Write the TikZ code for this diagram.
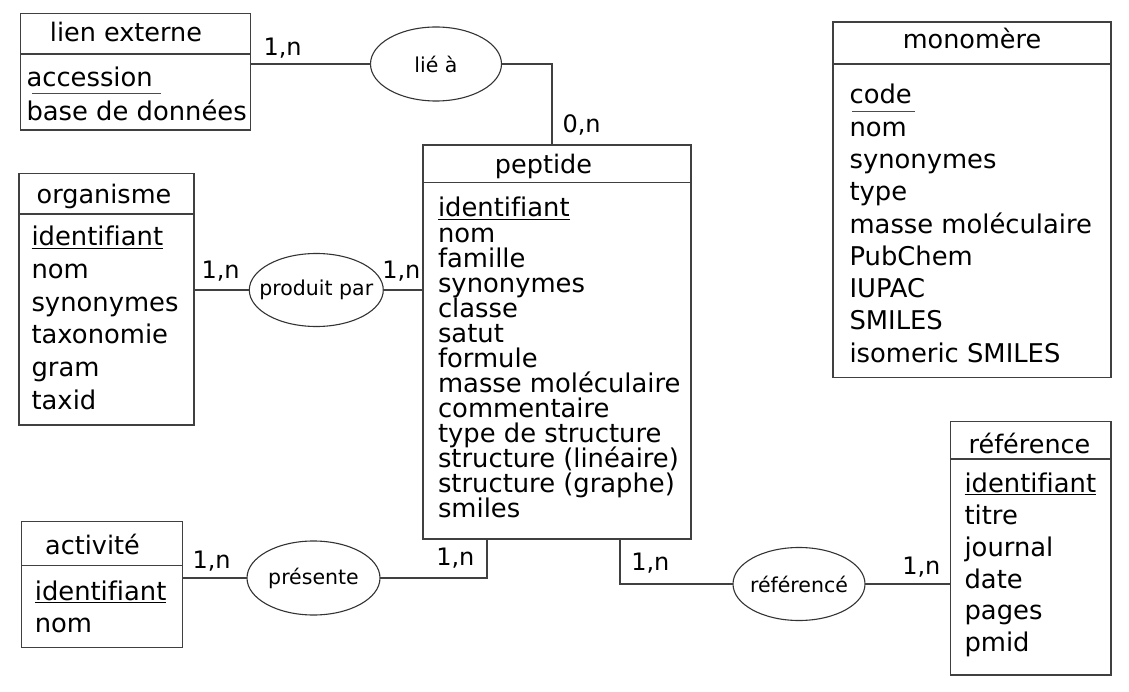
\documentclass[tikz,border=0pt]{standalone}
\usepackage{fontspec}
\setmainfont{DejaVu Sans}[Ligatures=NoCommon]
\usetikzlibrary{shapes.geometric}

\begin{document}
\begin{tikzpicture}[x=1pt, y=-1pt, line width=1.1pt,
	entite/.style={draw=black!75, rectangle, anchor=north west, inner sep=0pt, outer sep=0pt},
	separe/.style={draw=black!75},
	titre/.style={anchor=base, inner sep=0pt, font=\fontsize{25.5}{30}\selectfont},
	attr/.style={anchor=base west, inner sep=0pt, font=\fontsize{25.8}{30}\selectfont},
	assoc/.style={draw=black!80, ellipse, inner sep=0pt, outer sep=0pt},
	assoctexte/.style={inner sep=0pt, font=\fontsize{20.5}{24}\selectfont},
	card/.style={anchor=base west, inner sep=0pt, font=\fontsize{24}{28}\selectfont},
	liaison/.style={draw=black!75},
	souligne/.style={draw=black!70, line width=1pt}]
	\useasboundingbox (0,0) rectangle (1129,692);
	% Entites
	\node[entite, minimum width=230pt, minimum height=116.5pt] (lien) at (20.5,13.5) {};
	\node[entite, minimum width=175pt, minimum height=251.5pt] (org) at (19,173.5) {};
	\node[entite, minimum width=268pt, minimum height=394pt] (pep) at (423,145) {};
	\node[entite, minimum width=161pt, minimum height=126pt] (act) at (21.5,521.5) {};
	\node[entite, minimum width=160.5pt, minimum height=253.5pt] (ref) at (950.5,421.5) {};
	\node[entite, minimum width=278pt, minimum height=355.7pt] (mono) at (833,22) {};
	% Separations sous les titres
	\draw[separe] (lien.west |- 0,54) -- (lien.east |- 0,54);
	\draw[separe] (org.west |- 0,214) -- (org.east |- 0,214);
	\draw[separe] (pep.west |- 0,182.5) -- (pep.east |- 0,182.5);
	\draw[separe] (act.west |- 0,565.7) -- (act.east |- 0,565.7);
	\draw[separe] (ref.west |- 0,459) -- (ref.east |- 0,459);
	\draw[separe] (mono.west |- 0,64) -- (mono.east |- 0,64);
	% Titres
	\node[titre] (lien-titre) at (126,41.7) {lien externe};
	\node[titre] (org-titre) at (104,203.3) {organisme};
	\node[titre] (pep-titre) at (543.5,173.3) {peptide};
	\node[titre] (act-titre) at (92.5,554) {activit\'e};
	\node[titre] (ref-titre) at (1029.5,453.3) {r\'ef\'erence};
	\node[titre] (mono-titre) at (972,48.2) {monom\`ere};
	% Attributs
	\foreach \a [count=\i from 0] in {accession, base de donn\'ees}
		\node[attr] (lien-\i) at (26,86.7+34*\i) {\a};
	\draw[souligne] (32,94) -- (161,94);
	\foreach \a [count=\i from 0] in {\underline{identifiant}, nom, synonymes, taxonomie, gram, taxid}
		\node[attr] (org-\i) at (31,246+32.66*\i) {\a};
	\foreach \a [count=\i from 0] in {\underline{identifiant}, nom, famille, synonymes, classe, satut, formule,
		masse mol\'eculaire, commentaire, type de structure, structure (lin\'eaire), structure (graphe), smiles}
		\node[attr] (pep-\i) at (437.5,217+25.08*\i) {\a};
	\foreach \a [count=\i from 0] in {\underline{identifiant}, nom}
		\node[attr] (act-\i) at (34.3,600+32.7*\i) {\a};
	\foreach \a [count=\i from 0] in {\underline{identifiant}, titre, journal, date, pages, pmid}
		\node[attr] (ref-\i) at (964,492.7+31.8*\i) {\a};
	\foreach \a [count=\i from 0] in {code, nom, synonymes, type, masse mol\'eculaire, PubChem, IUPAC, SMILES, isomeric SMILES}
		\node[attr] (mono-\i) at (849,103.9+32.3*\i) {\a};
	\draw[souligne] (852,111.4) -- (915,111.4);
	% Associations
	\node[assoc, minimum width=131pt, minimum height=74pt] (lie) at (436,64) {};
	\node[assoctexte] (lie-texte) at (lie) {li\'e \`a};
	\node[assoc, minimum width=134pt, minimum height=73pt] (prod) at (316.3,290) {};
	\node[assoctexte] (prod-texte) at (prod) {produit par};
	\node[assoc, minimum width=133pt, minimum height=74pt] (pres) at (313.5,578) {};
	\node[assoctexte] (pres-texte) at (pres) {pr\'esente};
	\node[assoc, minimum width=132pt, minimum height=73pt] (refd) at (799,584) {};
	\node[assoctexte] (refd-texte) at (refd) {r\'ef\'erenc\'e};
	% Liens
	\draw[liaison] (lien.east |- lie.west) -- (lie.west);
	\draw[liaison] (lie.east) -| ([xshift=-5pt]pep.north);
	\draw[liaison] (org.east |- prod.west) -- (prod.west);
	\draw[liaison] (prod.east) -- (prod.east -| pep.west);
	\draw[liaison] (act.east |- pres.west) -- (pres.west);
	\draw[liaison] (pres.east) -| ([xshift=-70pt]pep.south);
	\draw[liaison] ([xshift=63pt]pep.south) |- (refd.west);
	\draw[liaison] (refd.east) -- (refd.east -| ref.west);
	% Cardinalites
	\node[card] (c-lien) at (263,56) {1,n};
	\node[card] (c-pep-lie) at (562,132.7) {0,n};
	\node[card] (c-org) at (201,279) {1,n};
	\node[card] (c-pep-prod) at (381.7,279) {1,n};
	\node[card] (c-act) at (192,568.3) {1,n};
	\node[card] (c-pep-pres) at (435.7,565.7) {1,n};
	\node[card] (c-pep-refd) at (630.7,570) {1,n};
	\node[card] (c-ref) at (901.7,574) {1,n};
\end{tikzpicture}
\end{document}
